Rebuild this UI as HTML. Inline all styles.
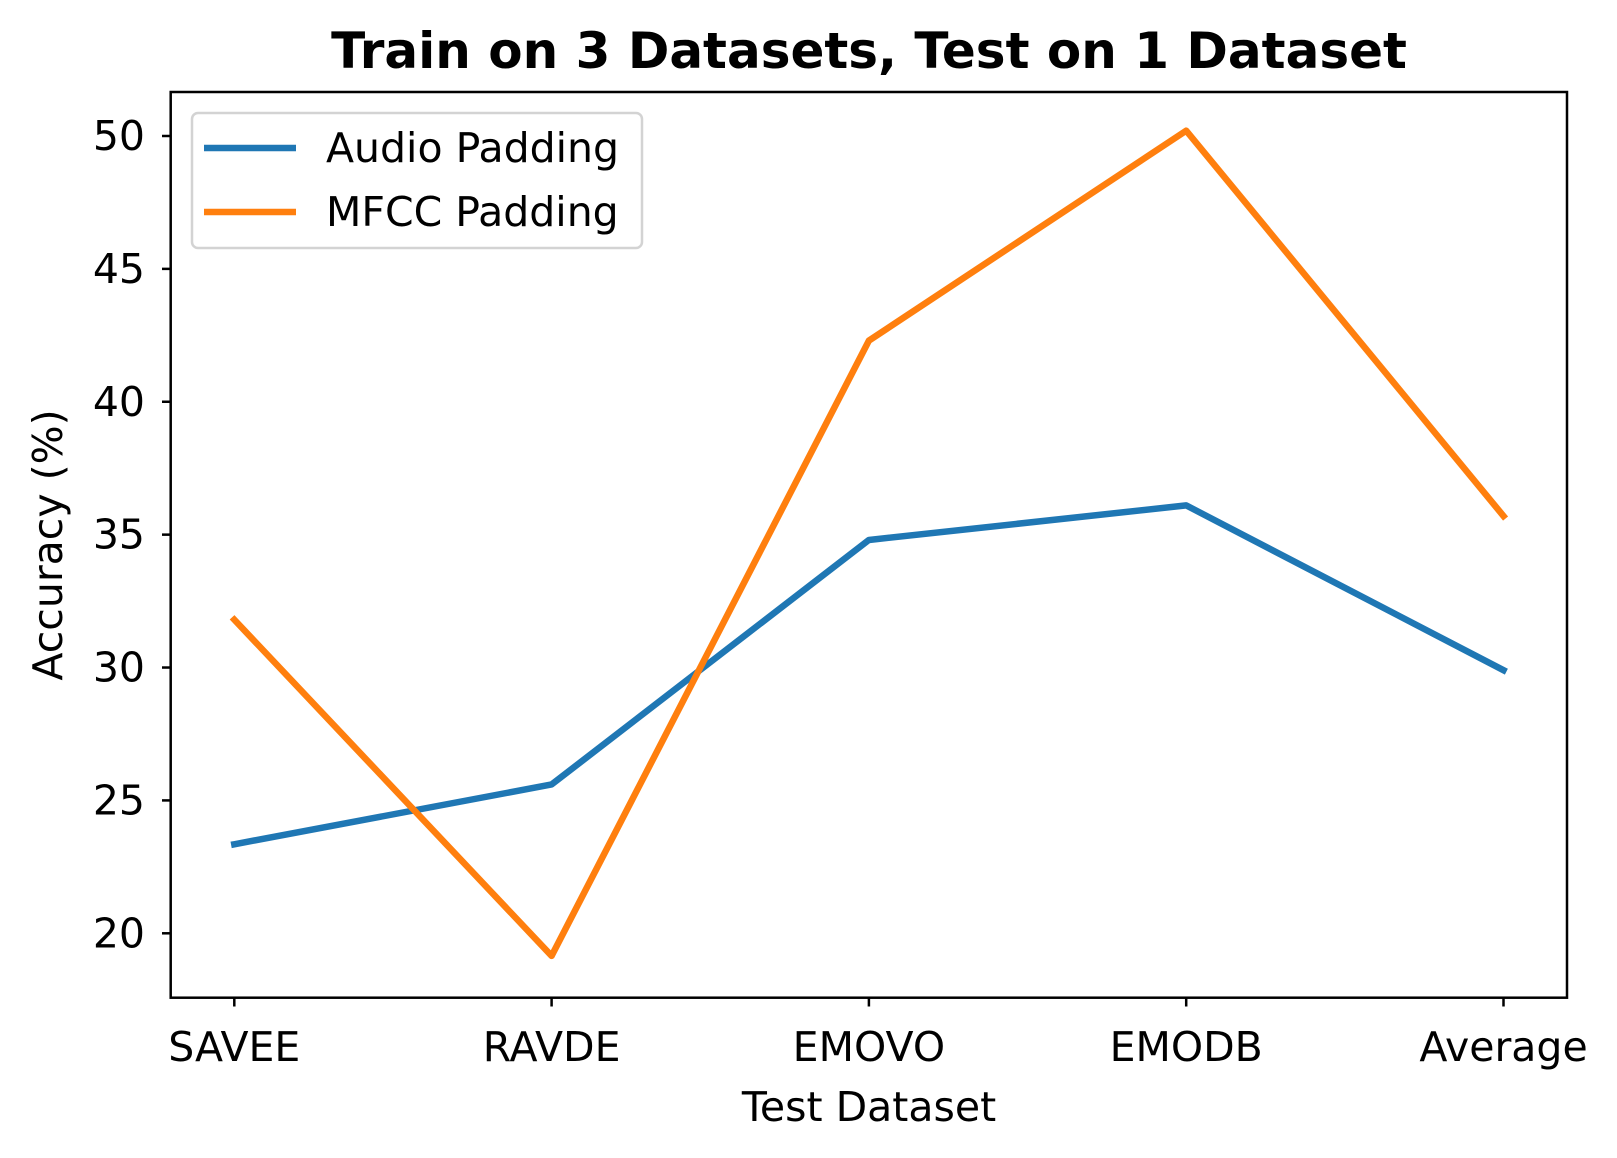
<!DOCTYPE html>
<html><head><meta charset="utf-8"><style>
html,body{margin:0;padding:0;background:#fff;}
svg{display:block;font-family:"DejaVu Sans","Liberation Sans",sans-serif;}
</style></head><body>
<svg id="chart" width="1617" height="1158" viewBox="0 0 1617 1158">
<rect width="1617" height="1158" fill="#fff"/>
<text x="869" y="68" text-anchor="middle" font-size="50" font-weight="bold">Train on 3 Datasets, Test on 1 Dataset</text>
<g id="grid"></g>
<g id="series"></g>
<rect x="170.7" y="92" width="1396.3" height="905.7" fill="none" stroke="#000" stroke-width="2.5"/>
<g id="axes"></g>
<text x="869" y="1121" text-anchor="middle" font-size="41">Test Dataset</text>
<text transform="translate(62,545) rotate(-90)" text-anchor="middle" font-size="41">Accuracy (%)</text>
<g>
<rect x="192" y="113" width="450" height="135" rx="6" fill="#fff" stroke="#d3d3d3" stroke-width="2.5"/>
<line x1="204" y1="148" x2="296" y2="148" stroke="#1f77b4" stroke-width="6.5"/>
<text x="326" y="162" font-size="41">Audio Padding</text>
<line x1="204" y1="212" x2="296" y2="212" stroke="#ff7f0e" stroke-width="6.5"/>
<text x="326" y="226" font-size="41">MFCC Padding</text>
</g>
</svg>
<script>
const categories = ["SAVEE","RAVDE","EMOVO","EMODB","Average"];
const audioPadding = [23.35, 25.6, 34.8, 36.1, 29.9];
const mfccPadding = [31.8, 19.15, 42.3, 50.2, 35.7];
const yTicks = [20, 25, 30, 35, 40, 45, 50];

const NS = "http://www.w3.org/2000/svg";
function xPos(i){ return 234.3 + i * 317.3; }
function yPos(v){ return 933.3 - (v - 20) * 26.577; }
const axes = document.getElementById('axes');
const series = document.getElementById('series');
function mk(tag, attrs, parent){ const e=document.createElementNS(NS,tag); for(const k in attrs) e.setAttribute(k,attrs[k]); parent.appendChild(e); return e; }

yTicks.forEach(function(t){
  const y = yPos(t);
  const l = mk('line',{x1:162,x2:170.7,y1:y,y2:y,stroke:'#000','stroke-width':2.5},axes);
  
  
  const tx = mk('text',{x:145,y:y+14,'text-anchor':'end','font-size':41},axes);
  tx.textContent = t;
  
  
});
categories.forEach(function(c,i){
  const x = xPos(i);
  const l = mk('line',{x1:x,x2:x,y1:997.7,y2:1006.5,stroke:'#000','stroke-width':2.5},axes);
  
  
  const tx = mk('text',{x:x,y:1061,'text-anchor':'middle','font-size':41},axes);
  tx.textContent = c;
  
  
});
function drawLine(vals, color, name){
  const pts = vals.map(function(v,i){ return xPos(i)+','+yPos(v); }).join(' ');
  const p = mk('polyline',{points:pts,fill:'none',stroke:color,'stroke-width':6.5,'stroke-linejoin':'round','stroke-linecap':'square'},series);
  
  
}
drawLine(audioPadding, '#1f77b4', 'audio-padding-line');
drawLine(mfccPadding, '#ff7f0e', 'mfcc-padding-line');
</script>
</body></html>
